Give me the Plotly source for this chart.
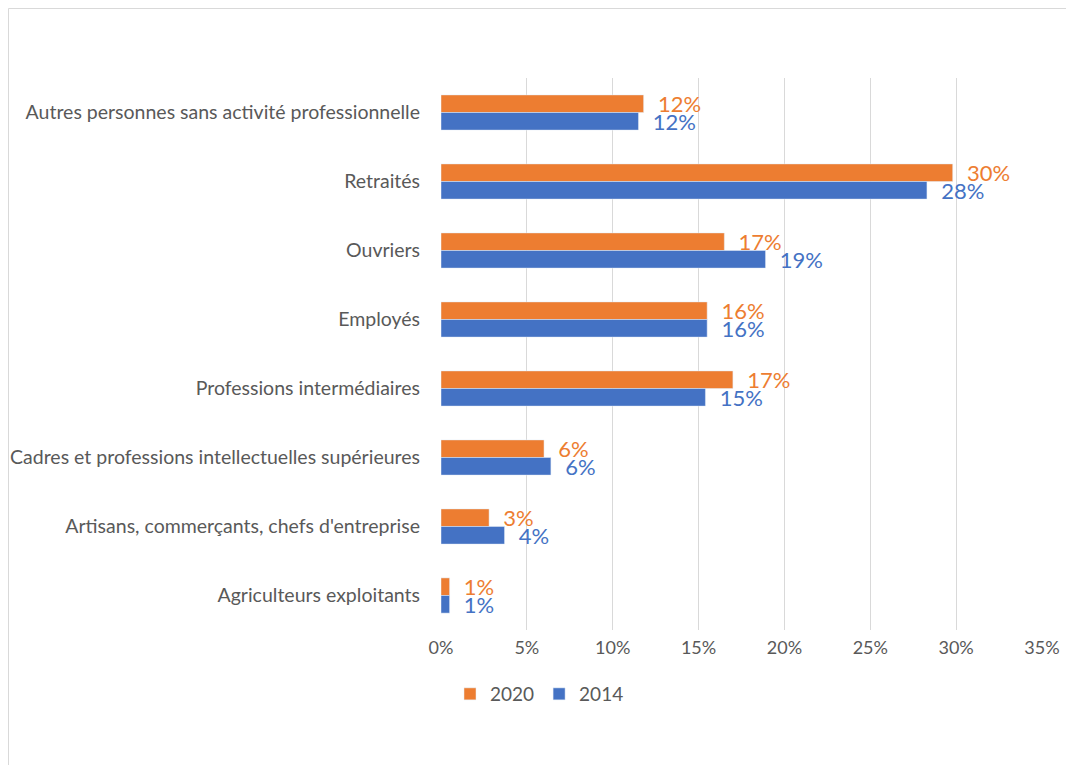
import plotly.graph_objects as go

categories = [
    "Autres personnes sans activité professionnelle",
    "Retraités",
    "Ouvriers",
    "Employés",
    "Professions intermédiaires",
    "Cadres et professions intellectuelles supérieures",
    "Artisans, commerçants, chefs d'entreprise",
    "Agriculteurs exploitants",
]
values_2020 = [11.8, 29.8, 16.5, 15.5, 17.0, 6.0, 2.8, 0.5]
values_2014 = [11.5, 28.3, 18.9, 15.5, 15.4, 6.4, 3.7, 0.5]
tick_vals = [0, 5, 10, 15, 20, 25, 30, 35]
tick_text = ["0%", "5%", "10%", "15%", "20%", "25%", "30%", "35%"]

ORANGE = "#ED7D31"
BLUE = "#4472C4"
GRAY = "#595959"
FONT = "Lato"

OFF = 8  # page offset of the rendered figure
W, H = 1074 - OFF, 765 - OFF
L, R, T, B = 441 - OFF, 1074 - 1042, 78 - OFF, 765 - 630
pw = W - L - R
ph = H - T - B


def px_x(x):
    return (x - OFF - L) / pw


def px_y(y):
    return 1 - (y - OFF - T) / ph


fig = go.Figure()
fig.add_trace(go.Bar(
    y=categories, x=values_2020, name="2020", orientation="h",
    marker=dict(color=ORANGE),
    texttemplate="  %{x:.0f}%", textposition="outside",
    constraintext="none",
    textfont=dict(color=ORANGE, size=22, family=FONT),
    cliponaxis=False,
))
fig.add_trace(go.Bar(
    y=categories, x=values_2014, name="2014", orientation="h",
    marker=dict(color=BLUE),
    texttemplate="  %{x:.0f}%", textposition="outside",
    constraintext="none",
    textfont=dict(color=BLUE, size=22, family=FONT),
    cliponaxis=False,
))

fig.update_layout(
    width=W, height=H,
    margin=dict(l=L, r=R, t=T, b=B, pad=0, autoexpand=False),
    barmode="group", bargap=0.49, bargroupgap=0,
    plot_bgcolor="white", paper_bgcolor="white",
    font=dict(family=FONT, color=GRAY, size=18),
    showlegend=True,
    legend=dict(orientation="h", x=px_x(450), xanchor="left",
                y=px_y(694), yanchor="middle",
                font=dict(size=19, color=GRAY), traceorder="normal",
                itemwidth=30),
    xaxis=dict(range=[0, 35], tickvals=tick_vals, ticktext=tick_text,
               showgrid=True, gridcolor="#D9D9D9", gridwidth=1,
               zeroline=False, showline=False, ticks="",
               ticklabelstandoff=5, automargin=False,
               tickfont=dict(size=18, color=GRAY)),
    yaxis=dict(autorange="reversed", showgrid=False, ticks="",
               showline=False, ticklabelstandoff=20, automargin=False,
               tickfont=dict(size=19.5, color=GRAY)),
    shapes=[dict(type="rect", xref="paper", yref="paper",
                 x0=px_x(8.5), x1=px_x(1090),
                 y0=px_y(780), y1=px_y(8.5),
                 line=dict(color="#D9D9D9", width=1), fillcolor="rgba(0,0,0,0)",
                 layer="below")],
)
fig.write_html("out.html")
